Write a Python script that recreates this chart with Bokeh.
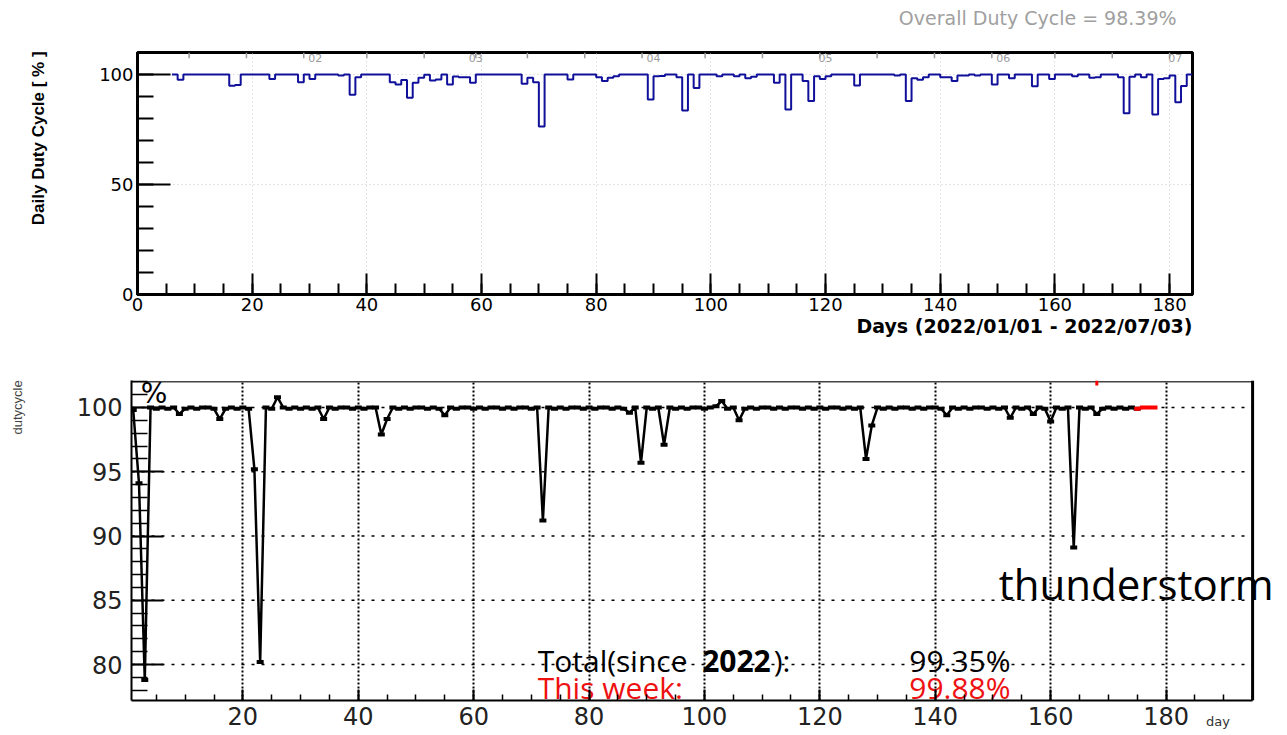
import numpy as np
from bokeh.plotting import figure
from bokeh.models import (Range1d, SingleIntervalTicker, FixedTicker, LinearAxis, Span, Title)
from bokeh.embed import file_html
from bokeh.resources import INLINE
from bokeh.core.properties import value

# ---------------- daily duty cycle, 2022/01/01 - 2022/07/03 ----------------
daily_first_day = 6          # first filled daily bin
daily_duty = [
    100, 97.6, 100, 100, 100, 100, 100, 100, 100, 100,        # 6-15
    94.9, 95.2, 100, 100, 100, 100, 100, 98.0, 100, 100,      # 16-25
    100, 100, 96.5, 100, 98.0, 100, 100, 100, 100, 99.6,      # 26-35
    100, 90.8, 98.8, 100, 100, 100, 100, 100, 96.5, 95.5,     # 36-45
    97.5, 89.4, 96.2, 98.5, 99.9, 97.3, 97.7, 100, 95.5, 99.1,  # 46-55
    98.8, 98.8, 96.2, 100, 100, 100, 100, 100, 100, 100,      # 56-65
    100, 95.8, 98.5, 96.5, 76.4, 100, 100, 100, 100, 97.7,    # 66-75
    100, 100, 100, 100, 98.8, 97.0, 98.5, 99.2, 100, 100,     # 76-85
    100, 100, 100, 88.6, 99.2, 99.3, 100, 100, 98.8, 83.6,    # 86-95
    100, 93.9, 100, 100, 100, 99.2, 100, 100, 99.2, 100,      # 96-105
    98.3, 99.0, 100, 100, 100, 96.2, 100, 84.1, 100, 100,     # 106-115
    97.0, 87.9, 99.2, 98.0, 99.2, 100, 100, 100, 100, 95.0,   # 116-125
    100, 100, 100, 100, 100, 100, 99.6, 100, 87.9, 98.3,      # 126-135
    97.6, 98.8, 100, 100, 98.8, 98.8, 97.0, 99.5, 99.5, 100,  # 136-145
    99.5, 100, 100, 95.5, 100, 100, 98.3, 100, 100, 100,      # 146-155
    94.7, 100, 100, 98.0, 100, 100, 100, 99.2, 100, 100,      # 156-165
    98.5, 98.8, 100, 100, 100, 98.8, 82.4, 99.0, 100, 98.8,   # 166-175
    100, 81.8, 98.0, 98.3, 99.5, 87.4, 94.8, 100,             # 176-183
]
overall_duty = 98.39
date_ticks = [9, 19, 29, 40, 50, 59, 68, 78, 88, 99, 109, 119, 129, 139, 149, 160, 170, 180]
month_days = [31, 59, 90, 120, 151, 181]
month_labels = ["02", "03", "04", "05", "06", "07"]

# ---------------- weekly report curve ----------------
report_days = list(range(1, 176))
report_duty = [
    99.8, 94.1, 78.8, 100.0, 99.9, 100.0, 99.9, 100.0, 99.5, 99.9,      # 1-10
    100.0, 99.9, 100.0, 100.0, 99.9, 99.1, 99.9, 100.0, 99.9, 100.0,    # 11-20
    99.9, 95.2, 80.2, 100.0, 99.9, 100.8, 100.0, 99.9, 100.0, 99.9,     # 21-30
    100.0, 99.9, 100.0, 99.1, 100.0, 99.9, 100.0, 100.0, 99.9, 100.0,   # 31-40
    99.9, 100.0, 100.0, 97.9, 99.1, 100.0, 99.9, 100.0, 99.9, 100.0,    # 41-50
    100.0, 99.9, 100.0, 99.9, 99.4, 100.0, 99.9, 100.0, 100.0, 99.9,    # 51-60
    100.0, 99.9, 100.0, 100.0, 99.9, 100.0, 99.9, 100.0, 100.0, 99.9,   # 61-70
    100.0, 91.2, 100.0, 99.9, 100.0, 99.9, 100.0, 100.0, 99.9, 100.0,   # 71-80
    99.9, 100.0, 100.0, 99.9, 100.0, 99.9, 99.6, 100.0, 95.7, 100.0,    # 81-90
    99.9, 100.0, 97.1, 100.0, 99.9, 100.0, 99.9, 100.0, 100.0, 99.9,    # 91-100
    100.0, 100.1, 100.5, 99.9, 100.0, 99.0, 99.9, 100.0, 99.9, 100.0,   # 101-110
    100.0, 99.9, 100.0, 99.9, 100.0, 100.0, 99.9, 100.0, 99.9, 100.0,   # 111-120
    99.9, 100.0, 100.0, 99.9, 100.0, 99.9, 100.0, 96.0, 98.6, 100.0,    # 121-130
    99.9, 100.0, 99.9, 100.0, 100.0, 99.9, 100.0, 99.9, 100.0, 100.0,   # 131-140
    99.9, 99.4, 100.0, 99.9, 100.0, 99.9, 100.0, 100.0, 99.9, 100.0,    # 141-150
    99.9, 100.0, 99.2, 100.0, 99.9, 100.0, 99.5, 100.0, 99.9, 98.9,     # 151-160
    100.0, 99.9, 100.0, 89.1, 100.0, 99.9, 100.0, 99.5, 99.9, 100.0,    # 161-170
    99.9, 100.0, 99.9, 100.0, 99.9,                                     # 171-175
]
week_days = [175, 176, 177, 178]
week_duty = [99.9, 100.0, 100.0, 100.0]
flag_days = [168]
flag_duty = [101.9]
total_since = 99.35
this_week = 99.88
day_grid = [20, 40, 60, 80, 100, 120, 140, 160, 180]
duty_grid = [80, 85, 90, 95, 100]

TXT = "#222222"


def text_axis(fig, side, tick, text, standoff, font, size, color,
              style="normal", orientation="horizontal"):
    """An axis carrying a single text label and nothing else."""
    ax = LinearAxis(ticker=FixedTicker(ticks=[tick], minor_ticks=[]),
                    major_label_overrides={tick: text},
                    axis_line_color=None, major_tick_line_color=None, minor_tick_line_color=None,
                    major_tick_in=0, major_tick_out=0, minor_tick_in=0, minor_tick_out=0,
                    major_label_standoff=standoff, major_label_text_font=font,
                    major_label_text_font_size=size, major_label_text_color=color,
                    major_label_text_font_style=style, major_label_orientation=orientation)
    fig.add_layout(ax, side)


# ======================= upper panel: daily histogram =======================
top = figure(width=1287, height=345, x_range=Range1d(0, 184), y_range=Range1d(0, 110),
             output_backend="svg", toolbar_location=None,
             min_border_left=137, min_border_right=95, min_border_top=52, min_border_bottom=51,
             background_fill_color="white", border_fill_color="white")
top.outline_line_color = "black"
top.outline_line_width = 3

top.xaxis.ticker = SingleIntervalTicker(interval=20, num_minor_ticks=4)
top.yaxis.ticker = SingleIntervalTicker(interval=50, num_minor_ticks=5)
for ax in (top.xaxis, top.yaxis):
    ax.axis_line_width = 3
    ax.axis_line_color = "black"
    ax.major_tick_out = 0
    ax.minor_tick_out = 0
    ax.major_tick_line_width = 2
    ax.minor_tick_line_width = 2
    ax.major_label_text_font = "DejaVu Sans"
    ax.major_label_text_font_size = "18px"
    ax.major_label_text_color = "black"
top.xaxis.major_tick_in = 21
top.xaxis.minor_tick_in = 11
top.xaxis.major_label_standoff = 3
top.yaxis.major_tick_in = 33
top.yaxis.minor_tick_in = 16
top.yaxis.major_label_standoff = 4

top.xgrid.ticker = SingleIntervalTicker(interval=20)
top.ygrid.ticker = SingleIntervalTicker(interval=50)
for g in (top.xgrid, top.ygrid):
    g.grid_line_color = "#c8c8c8"
    g.grid_line_dash = "1 3"
    g.grid_line_width = 1

# date ticks hanging from the top edge, month numbers beside them
top.segment(x0=date_ticks, y0=110, x1=date_ticks, y1=107.4, line_color="#999999", line_width=1.5)
top.text(x=month_days, y=[107.3] * len(month_days), text=month_labels,
         text_font=value("DejaVu Sans"), text_font_size="11px", text_color="#9a9a9a",
         text_align="center", text_baseline="middle")

# histogram outline
edges = list(range(daily_first_day, daily_first_day + len(daily_duty) + 1))
top.step(edges, daily_duty + [daily_duty[-1]], mode="after", line_color="#10109a", line_width=2)

text_axis(top, "above", 157, f"Overall Duty Cycle = {overall_duty:.2f}%", 24,
          "DejaVu Sans", "19px", "#a0a0a0")
text_axis(top, "left", 71, "Daily Duty Cycle [ % ]", 48,
          "Liberation Sans", "17px", "black", style="bold", orientation="vertical")
top.add_layout(Title(text="Days (2022/01/01 - 2022/07/03)", align="right", vertical_align="top",
                     standoff=2, offset=0, text_font="DejaVu Sans", text_font_size="19px",
                     text_font_style="bold", text_color="black"), "below")

# ======================= lower panel: report curve =======================
bot = figure(width=1287, height=390, x_range=Range1d(0.7, 201.05), y_range=Range1d(77.2, 102.1),
             output_backend="svg", toolbar_location=None,
             min_border_left=131, min_border_right=0, min_border_top=35, min_border_bottom=35,
             background_fill_color="white", border_fill_color="white")
bot.outline_line_color = None
x_end = 195

bot.xaxis.ticker = SingleIntervalTicker(interval=20, num_minor_ticks=4)
bot.yaxis.ticker = SingleIntervalTicker(interval=5, num_minor_ticks=5)
bot.xaxis.bounds = (0.7, x_end)
for ax in (bot.xaxis, bot.yaxis):
    ax.axis_line_width = 2
    ax.axis_line_color = "black"
    ax.major_tick_out = 0
    ax.minor_tick_out = 0
    ax.major_tick_line_width = 2
    ax.minor_tick_line_width = 1.5
    ax.major_label_text_font = "DejaVu Sans"
    ax.major_label_text_font_size = "24px"
    ax.major_label_text_color = TXT
bot.xaxis.major_tick_in = 11
bot.xaxis.minor_tick_in = 6
bot.xaxis.major_label_standoff = 6
bot.yaxis.major_tick_in = 32
bot.yaxis.minor_tick_in = 16
bot.yaxis.major_label_standoff = 9

text_axis(bot, "left", 100, "dutycycle", 48, "Liberation Sans", "13px", "#444444",
          orientation="vertical")
text_axis(bot, "below", 189, "day", -14, "DejaVu Sans", "13px", "#333333")

# frame edges and grid, kept inside the data area
bot.xgrid.ticker = FixedTicker(ticks=day_grid)
bot.xgrid.grid_line_color = "black"
bot.xgrid.grid_line_dash = "2 2"
bot.xgrid.grid_line_width = 2
bot.ygrid.grid_line_color = None
bot.segment(x0=0.7, x1=x_end, y0=duty_grid, y1=duty_grid, line_color="black",
            line_width=1.5, line_dash="3 7")
bot.segment(x0=0.7, x1=x_end, y0=102.0, y1=102.0, line_color="#444444", line_width=1.5)
bot.add_layout(Span(location=x_end, dimension="height", line_color="black", line_width=3))

bot.line(report_days, report_duty, line_color="black", line_width=2.5)
bot.rect(report_days, report_duty, width=7, height=4, width_units="screen", height_units="screen",
         fill_color="black", line_color=None)
bot.line(week_days, week_duty, line_color="red", line_width=3)
bot.rect(week_days, week_duty, width=6, height=4, width_units="screen", height_units="screen",
         fill_color="red", line_color=None)
bot.rect(flag_days, flag_duty, width=3, height=5, width_units="screen", height_units="screen",
         fill_color="red", line_color=None)

bot.text(x=[2.3], y=[101.1], text=["%"], text_baseline="middle", text_font=value("DejaVu Sans"),
         text_font_size="28px", text_color="black")
bot.text(x=[151.0], y=[86.3], text=["thunderstorm"], text_baseline="alphabetic",
         text_font=value("Open Sans"), text_font_size="42px", text_color="black")

NOTE = dict(text_baseline="alphabetic", text_font=value("Open Sans"), text_font_size="30px")
bot.text(x=[71.1], y=[80.3], text=["Total(since"], text_color="black", **NOTE)
bot.text(x=[99.6], y=[80.3], text=["2022"], text_font_style="bold", text_color="black", **NOTE)
bot.text(x=[112.0], y=[80.3], text=["):"], text_color="black", **NOTE)
bot.text(x=[135.5], y=[80.3], text=[f"{total_since:.2f}%"], text_color="black", **NOTE)
bot.text(x=[71.1], y=[78.25], text=["This week:"], text_color="#ee1111", **NOTE)
bot.text(x=[135.5], y=[78.25], text=[f"{this_week:.2f}%"], text_color="#ee1111", **NOTE)

open("out.html", "w").write(file_html([top, bot], INLINE))
